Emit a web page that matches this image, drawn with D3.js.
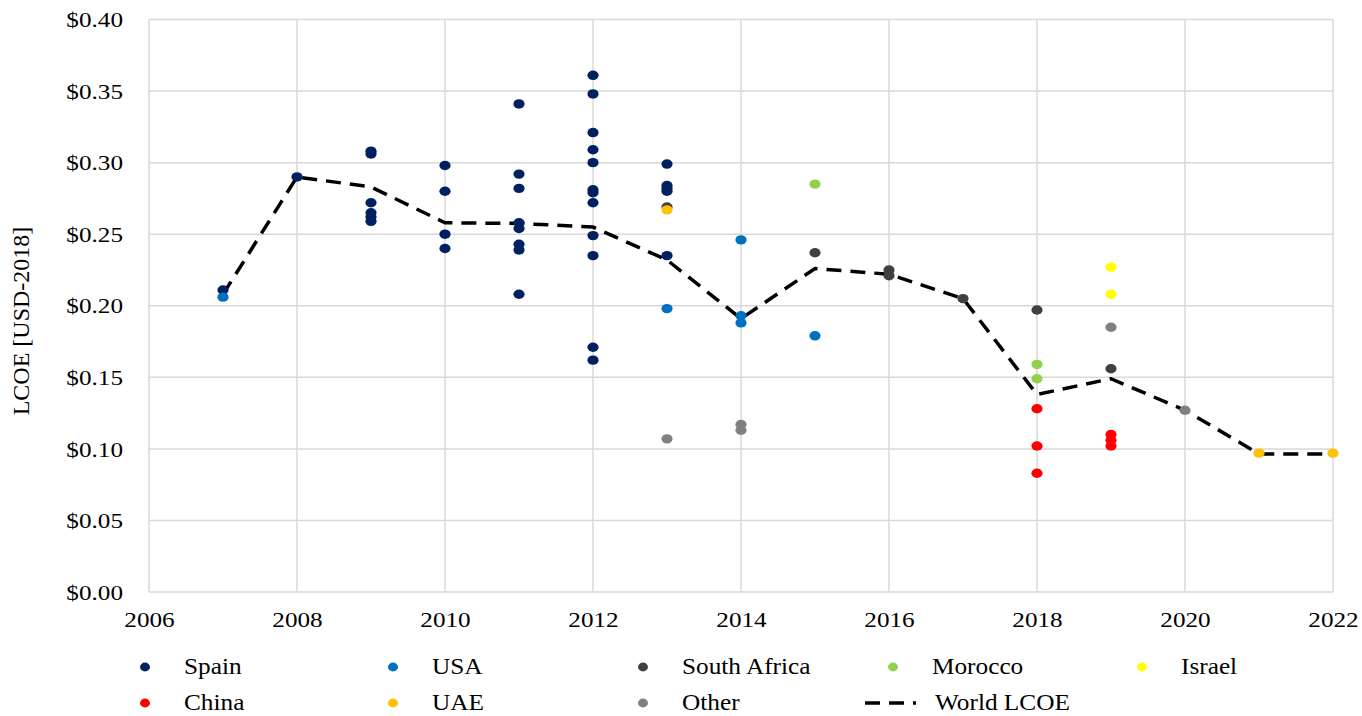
<!DOCTYPE html>
<html>
<head>
<meta charset="utf-8">
<script src="https://cdn.jsdelivr.net/npm/d3@7"></script>
<style>
  html, body { margin: 0; padding: 0; background: #fff; }
  svg { display: block; }
  text { font-family: "Liberation Serif", "Times New Roman", serif; fill: #000; }
</style>
</head>
<body>
<svg id="chart" width="1362" height="716"></svg>
<script>
// LCOE observations per country: [year, USD-2018 per kWh]
const spain = [
  [2007, 0.211], [2008, 0.290],
  [2009, 0.308], [2009, 0.306], [2009, 0.272], [2009, 0.265], [2009, 0.262], [2009, 0.259],
  [2010, 0.298], [2010, 0.280], [2010, 0.250], [2010, 0.240],
  [2011, 0.341], [2011, 0.292], [2011, 0.282], [2011, 0.258], [2011, 0.254], [2011, 0.243], [2011, 0.239], [2011, 0.208],
  [2012, 0.361], [2012, 0.348], [2012, 0.321], [2012, 0.309], [2012, 0.300], [2012, 0.281], [2012, 0.279],
  [2012, 0.272], [2012, 0.249], [2012, 0.235], [2012, 0.171], [2012, 0.162],
  [2013, 0.299], [2013, 0.284], [2013, 0.282], [2013, 0.280], [2013, 0.235]
];
const usa = [[2007, 0.206], [2013, 0.198], [2014, 0.246], [2014, 0.193], [2014, 0.188], [2015, 0.179]];
const southAfrica = [[2013, 0.269], [2015, 0.237], [2016, 0.225], [2016, 0.221], [2017, 0.205], [2018, 0.197], [2019, 0.156]];
const morocco = [[2015, 0.285], [2018, 0.159], [2018, 0.149]];
const israel = [[2019, 0.227], [2019, 0.208]];
const china = [[2018, 0.128], [2018, 0.102], [2018, 0.083], [2019, 0.110], [2019, 0.106], [2019, 0.102]];
const uae = [[2013, 0.267], [2021, 0.097], [2022, 0.097]];
const other = [[2013, 0.107], [2014, 0.117], [2014, 0.113], [2019, 0.185], [2020, 0.127]];

// World average LCOE by year
const worldYears = [2007, 2008, 2009, 2010, 2011, 2012, 2013, 2014, 2015, 2016, 2017, 2018, 2019, 2020, 2021, 2022];
const worldValues = [0.208, 0.290, 0.283, 0.258, 0.2575, 0.255, 0.232, 0.191, 0.226, 0.222, 0.205, 0.138, 0.149, 0.127, 0.0965, 0.0965];

const xTicks = [2006, 2008, 2010, 2012, 2014, 2016, 2018, 2020, 2022];
const yTicks = [0, 0.05, 0.10, 0.15, 0.20, 0.25, 0.30, 0.35, 0.40];

const seriesNames = ["Spain", "USA", "South Africa", "Morocco", "Israel", "China", "UAE", "Other"];
const seriesData = [spain, usa, southAfrica, morocco, israel, china, uae, other];
const seriesColors = ["#002060", "#0070C0", "#404040", "#92D050", "#FFFF00", "#FF0000", "#FFC000", "#808080"];

const svg = d3.select("#chart");
const plotLeft = 149, plotRight = 1333, plotTop = 19.5, plotBottom = 592;

const x = d3.scaleLinear().domain([2006, 2022]).range([plotLeft, plotRight]);
const y = d3.scaleLinear().domain([0, 0.4]).range([plotBottom, plotTop]);

// gridlines
const grid = svg.append("g");
grid.selectAll("line.h").data(yTicks).join("line")
  .attr("class", "h")
  .attr("x1", plotLeft).attr("x2", plotRight)
  .attr("y1", d => y(d)).attr("y2", d => y(d))
  .attr("stroke", "#d9d9d9").attr("stroke-width", 1.5);
grid.selectAll("line.v").data(xTicks).join("line")
  .attr("class", "v")
  .attr("x1", d => x(d)).attr("x2", d => x(d))
  .attr("y1", plotTop).attr("y2", plotBottom)
  .attr("stroke", "#d9d9d9").attr("stroke-width", 1.5);

// axis tick labels (slightly widened serif type)
const tickSX = 1.2;
const yAxis = d3.axisLeft(y).tickValues(yTicks).tickSize(0).tickPadding(0)
  .tickFormat(d => "$" + d3.format(".2f")(d));
const gy = svg.append("g").attr("transform", `translate(${plotLeft - 26},0)`).call(yAxis);
gy.select(".domain").remove();
gy.selectAll("text")
  .attr("x", 0).attr("dy", "0.34em")
  .attr("font-size", 21)
  .attr("font-family", "Liberation Serif")
  .attr("fill", "#000")
  .attr("transform", `scale(${tickSX},1)`);

const xAxis = d3.axisBottom(x).tickValues(xTicks).tickSize(0).tickPadding(0).tickFormat(d3.format("d"));
const gx = svg.append("g").attr("transform", `translate(0,${plotBottom + 35})`).call(xAxis);
gx.select(".domain").remove();
gx.selectAll("text")
  .attr("y", 0).attr("dy", 0)
  .attr("font-size", 21)
  .attr("font-family", "Liberation Serif")
  .attr("fill", "#000")
  .attr("transform", `scale(${tickSX},1)`);

// y axis title
svg.append("text")
  .attr("transform", "translate(29,321) rotate(-90)")
  .attr("text-anchor", "middle")
  .attr("font-size", 24)
  .text("LCOE [USD-2018]");

// world LCOE dashed line
const line = d3.line().x((d, i) => x(worldYears[i])).y(d => y(d));
svg.append("path")
  .datum(worldValues)
  .attr("d", line)
  .attr("fill", "none")
  .attr("stroke", "#000")
  .attr("stroke-width", 3.5)
  .attr("stroke-dasharray", "15,9");

// country markers
const rx = 5.6, ry = 4.7;
seriesData.forEach((data, i) => {
  svg.append("g").selectAll("ellipse").data(data).join("ellipse")
    .attr("cx", d => x(d[0]))
    .attr("cy", d => y(d[1]))
    .attr("rx", rx).attr("ry", ry)
    .attr("fill", seriesColors[i]);
});

// legend
const legendSX = 1.1;
const colX = [145, 393, 643, 893, 1142];
const rowY = [667, 703];
const legendItems = seriesNames.map((n, i) => ({ name: n, color: seriesColors[i], type: "dot" }));
legendItems.push({ name: "World LCOE", color: "#000", type: "line" });
const lg = svg.append("g");
legendItems.forEach((item, i) => {
  const cx = colX[i % 5], cy = rowY[Math.floor(i / 5)];
  if (item.type === "dot") {
    lg.append("ellipse").attr("cx", cx).attr("cy", cy).attr("rx", 5).attr("ry", 4.4).attr("fill", item.color);
  } else {
    lg.append("line")
      .attr("x1", cx - 28).attr("x2", cx + 23)
      .attr("y1", cy).attr("y2", cy)
      .attr("stroke", "#000").attr("stroke-width", 3.5)
      .attr("stroke-dasharray", "15,9");
  }
  lg.append("g").attr("transform", `translate(${cx + (item.type === "dot" ? 39 : 42)},${cy + 7})`)
    .append("text")
    .attr("font-size", 23)
    .attr("transform", `scale(${legendSX},1)`)
    .text(item.name);
});
</script>
</body>
</html>
